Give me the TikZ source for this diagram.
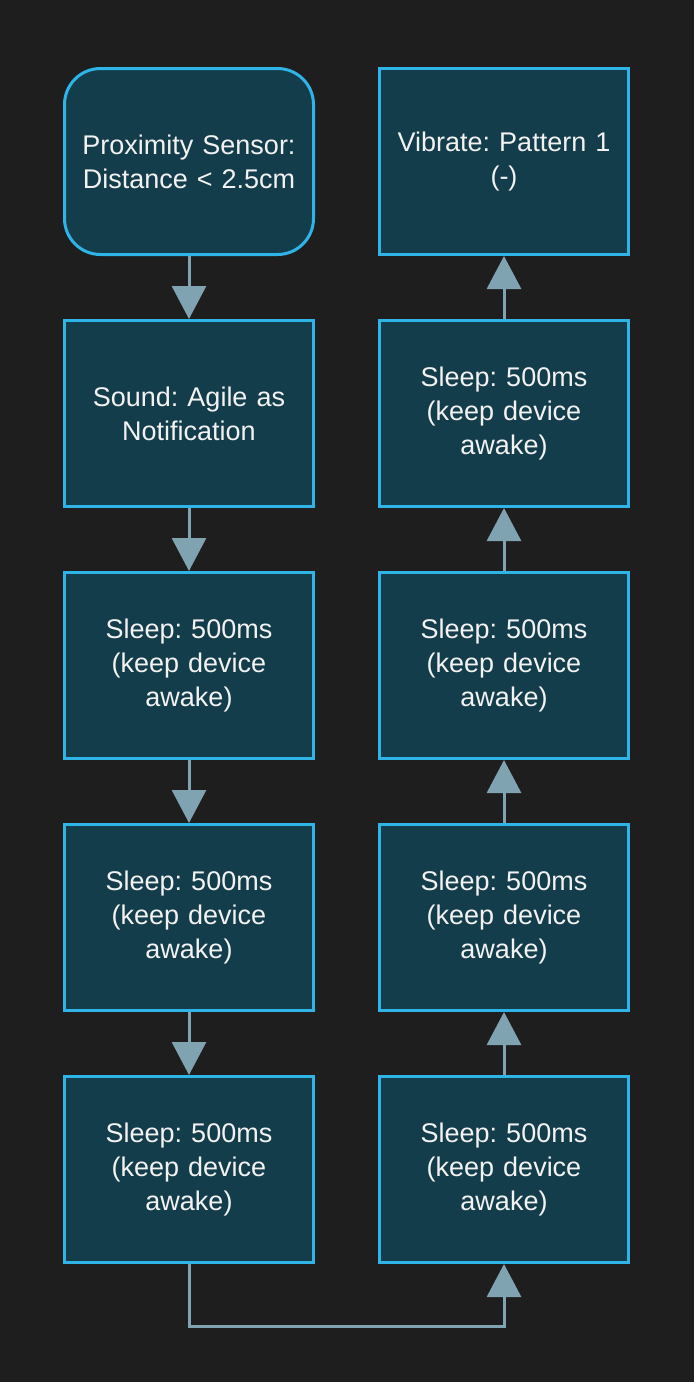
\documentclass[tikz,border=0pt]{standalone}
\usepackage{fontspec}
\setmainfont{Liberation Sans}
\frenchspacing
\usepackage{tikz}
\usetikzlibrary{positioning,arrows.meta,shapes}
\definecolor{flowBg}{HTML}{1E1E1E}
\definecolor{flowFill}{HTML}{143D4B}
\definecolor{flowBorder}{HTML}{2EB4E6}
\definecolor{flowLink}{HTML}{7FA3B0}
\definecolor{flowText}{HTML}{F2F2F2}
\tikzset{
    flowBoxBase/.style={
        rectangle,
        draw=flowBorder,
        fill=flowFill,
        line width=3pt,
        minimum width=249pt,
        minimum height=186pt,
        text width=240pt,
        align=center,
        text=flowText,
        font=\fontsize{27}{34}\selectfont,
        inner sep=0pt
    },
    % Variants
    startBox/.style={flowBoxBase, rounded corners=36pt},
    stepBox/.style={flowBoxBase},
    % Arrows
    flowArrow/.style={-{Triangle[width=34pt,length=33pt]}, line width=3pt, draw=flowLink}
}
\begin{document}
\begin{tikzpicture}[x=1pt, y=1pt, node distance=63pt]
\fill[flowBg] (0,0) rectangle (694,-1382);
\useasboundingbox (0,0) rectangle (694,-1382);

% Left column
\node[startBox] (sensor) at (189,-161.5) {Proximity Sensor:\\Distance < 2.5cm};
\node[stepBox, below=of sensor] (sound) {Sound: Agile as\\Notification};
\node[stepBox, below=of sound] (sleepL1) {Sleep: 500ms\\(keep device\\awake)};
\node[stepBox, below=of sleepL1] (sleepL2) {Sleep: 500ms\\(keep device\\awake)};
\node[stepBox, below=of sleepL2] (sleepL3) {Sleep: 500ms\\(keep device\\awake)};

% Right column
\node[stepBox] (sleepR1) at (504,-1169.5) {Sleep: 500ms\\(keep device\\awake)};
\node[stepBox, above=of sleepR1] (sleepR2) {Sleep: 500ms\\(keep device\\awake)};
\node[stepBox, above=of sleepR2] (sleepR3) {Sleep: 500ms\\(keep device\\awake)};
\node[stepBox, above=of sleepR3] (sleepR4) {Sleep: 500ms\\(keep device\\awake)};
\node[stepBox, above=of sleepR4] (vibrate) {Vibrate: Pattern 1\\(-)};

% Links
\draw[flowArrow] (sensor) -- (sound);
\draw[flowArrow] (sound) -- (sleepL1);
\draw[flowArrow] (sleepL1) -- (sleepL2);
\draw[flowArrow] (sleepL2) -- (sleepL3);
\draw[flowArrow] (sleepL3.south) -- ++(0,-62) -| (sleepR1.south);
\draw[flowArrow] (sleepR1) -- (sleepR2);
\draw[flowArrow] (sleepR2) -- (sleepR3);
\draw[flowArrow] (sleepR3) -- (sleepR4);
\draw[flowArrow] (sleepR4) -- (vibrate);
\end{tikzpicture}
\end{document}
